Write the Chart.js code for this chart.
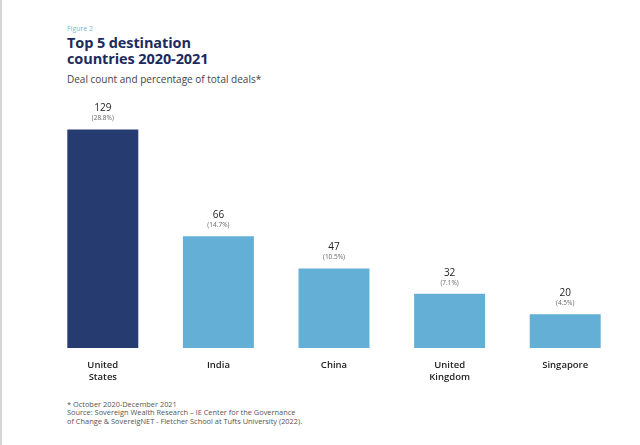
<!DOCTYPE html>
<html>
<head>
<meta charset="utf-8">
<script src="https://cdn.jsdelivr.net/npm/chart.js@4"></script>
<style>
  html, body { margin: 0; padding: 0; background: #fff; }
  body { width: 640px; height: 445px; position: relative; overflow: hidden; font-family: "Open Sans", sans-serif; }
  #edge { position: absolute; left: 0; top: 0; width: 2px; height: 445px; background: #d6d6d6; }
  .txt { position: absolute; left: 67px; white-space: nowrap; }
  #fig { top: 24px; font-size: 7px; color: #7db7dc; }
  #title { top: 35px; font-size: 14.5px; line-height: 16px; font-weight: 700; color: #1c2b5e; letter-spacing: -0.1px; }
  #sub { top: 72px; font-size: 10px; color: #444; }
  #foot { top: 400px; font-size: 7.4px; line-height: 8.3px; color: #555; }
  #wrap { position: absolute; left: 0; top: 90px; width: 640px; height: 300px; }
</style>
</head>
<body>
<div id="edge"></div>
<div class="txt" id="fig">Figure 2</div>
<div class="txt" id="title">Top 5 destination<br>countries 2020-2021</div>
<div class="txt" id="sub">Deal count and percentage of total deals*</div>
<div class="txt" id="foot">* October 2020-December 2021<br>Source: Sovereign Wealth Research – IE Center for the Governance<br>of Change &amp; SovereigNET - Fletcher School at Tufts University (2022).</div>
<div id="wrap"><canvas id="chart"></canvas></div>
<script>
// values
const countries = [['United', 'States'], 'India', 'China', ['United', 'Kingdom'], 'Singapore'];
const dealCounts = [129, 66, 47, 32, 20];
const dealShares = ['28.8%', '14.7%', '10.5%', '7.1%', '4.5%'];
const barColours = ['#263b70', '#63afd5', '#63afd5', '#63afd5', '#63afd5'];

// draws the count and the share above each bar
const barLabels = {
  id: 'barLabels',
  afterDatasetsDraw(chart) {
    const ctx = chart.ctx;
    const meta = chart.getDatasetMeta(0);
    ctx.save();
    ctx.textAlign = 'center';
    ctx.textBaseline = 'middle';
    meta.data.forEach((bar, i) => {
      ctx.fillStyle = '#222';
      ctx.font = '10px "Open Sans"';
      ctx.fillText(dealCounts[i], bar.x, bar.y - 21);
      ctx.fillStyle = '#666';
      ctx.font = '6.5px "Open Sans"';
      ctx.fillText('(' + dealShares[i] + ')', bar.x, bar.y - 11);
    });
    ctx.restore();
  }
};

new Chart(document.getElementById('chart'), {
  type: 'bar',
  data: {
    labels: countries,
    datasets: [{
      data: dealCounts,
      backgroundColor: barColours,
      borderWidth: 0,
      categoryPercentage: 1,
      barPercentage: 0.614
    }]
  },
  options: {
    responsive: true,
    maintainAspectRatio: false,
    animation: false,
    layout: { padding: { left: 45, right: 17, top: 4, bottom: 0 } },
    plugins: { legend: { display: false }, tooltip: { enabled: false } },
    scales: {
      x: {
        grid: { display: false },
        border: { display: false },
        ticks: {
          padding: 4,
          color: '#222',
          font: { family: 'Open Sans', size: 9.5, weight: '600', lineHeight: 1.2 }
        },
        afterFit(axis) { axis.height = 42; }
      },
      y: {
        display: false,
        min: 0,
        max: 150
      }
    }
  },
  plugins: [barLabels]
});
</script>
</body>
</html>
